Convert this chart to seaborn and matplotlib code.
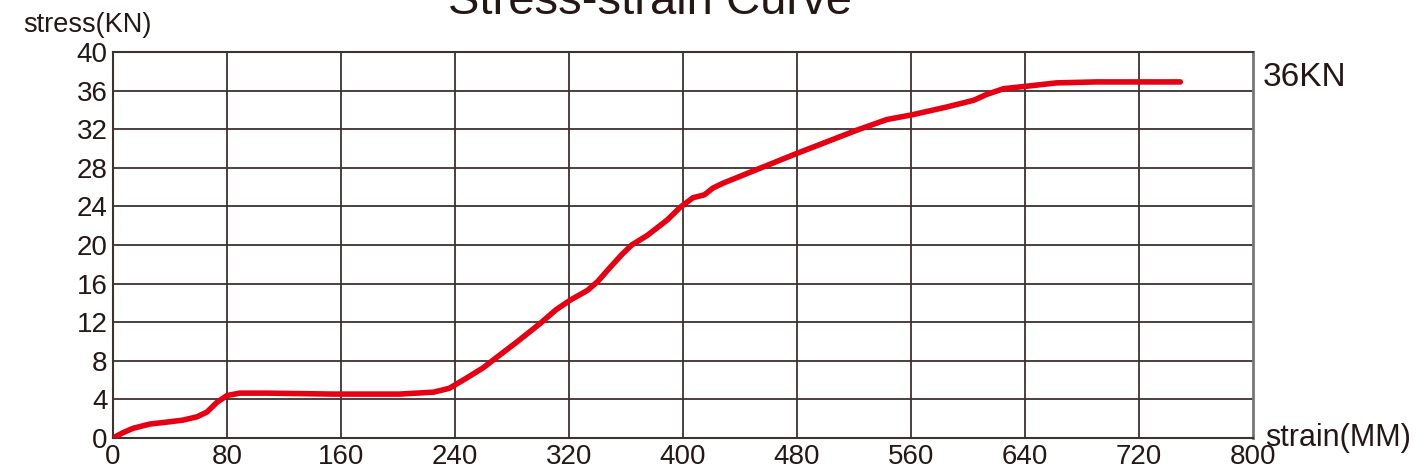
import pandas as pd
import matplotlib.pyplot as plt
import seaborn as sns

# values
strain = [0, 7, 14, 26, 38, 49, 59, 66, 73, 80, 89, 108, 155, 201, 225, 236,
          248, 260, 267, 283, 300, 311, 321, 333, 340, 349, 357, 364, 375, 389,
          398, 407, 415, 421, 428, 480, 522, 543, 561, 585, 604, 613, 625, 644,
          662, 690, 749]
stress = [0, 0.55, 1.0, 1.45, 1.65, 1.85, 2.2, 2.7, 3.7, 4.4, 4.65, 4.65, 4.55, 4.55,
          4.75, 5.15, 6.2, 7.3, 8.1, 9.9, 11.9, 13.3, 14.3, 15.3, 16.2, 17.7, 19.0,
          20.0, 21.0, 22.6, 23.9, 24.9, 25.2, 25.9, 26.4, 29.5, 31.9, 33.0, 33.5,
          34.3, 35.0, 35.6, 36.2, 36.5, 36.8, 36.9, 36.9]
x_ticks = list(range(0, 801, 80))
y_ticks = list(range(0, 41, 4))

df = pd.DataFrame({'strain': strain, 'stress': stress})

sns.set_style('white')
plt.rcParams['font.family'] = ['Liberation Sans', 'DejaVu Sans']

fig = plt.figure(figsize=(14.25, 4.75), dpi=100)
ax = fig.add_axes([0.0793, 0.0779, 0.8, 0.8126])

grid_col = '#3a3330'
for v in x_ticks[1:-1]:
    ax.axvline(v, color=grid_col, lw=1.3, zorder=1)
for v in y_ticks[1:-1]:
    ax.axhline(v, color=grid_col, lw=1.3, zorder=1)

sns.lineplot(data=df, x='strain', y='stress', color='#e60012', linewidth=4,
             ax=ax, zorder=3, solid_capstyle='round', solid_joinstyle='round')

ax.set_xlim(0, 800)
ax.set_ylim(0, 40)
ax.set_xticks(x_ticks)
ax.set_yticks(y_ticks)
ax.tick_params(axis='both', length=0, labelsize=20, colors='#231815', pad=4)
ax.set_xlabel('')
ax.set_ylabel('')
for s in ['left', 'bottom', 'top']:
    ax.spines[s].set_color(grid_col)
    ax.spines[s].set_linewidth(1.5)
ax.spines['right'].set_color('#777777')
ax.spines['right'].set_linewidth(2)

fig.text(0.016, 0.933, 'stress(KN)', fontsize=19.5, color='#231815', va='baseline')
fig.text(0.886, 0.818, '36KN', fontsize=24, color='#231815', va='baseline')
fig.text(0.888, 0.062, 'strain(MM)', fontsize=22, color='#231815', va='baseline')
fig.text(0.456, 0.97, 'Stress-strain Curve', fontsize=34, color='#231815',
         ha='center', va='baseline')

plt.savefig('out.png', dpi=100)
